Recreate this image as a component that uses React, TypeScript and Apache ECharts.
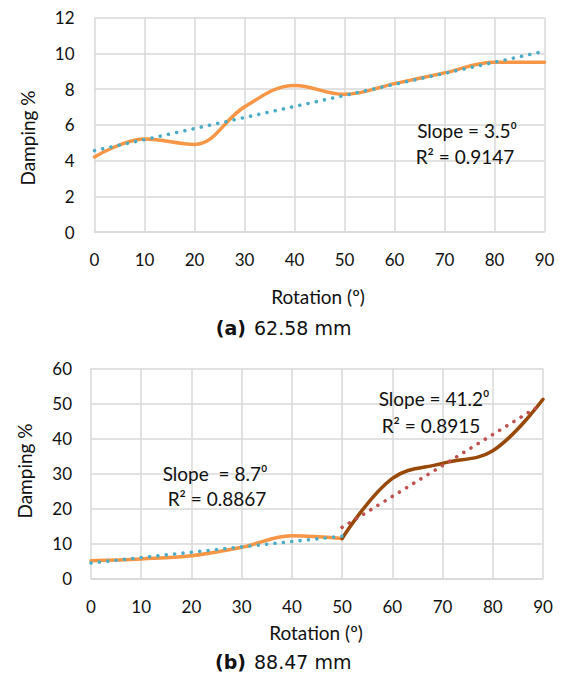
import React, { useEffect, useRef } from "react";
import * as echarts from "echarts";

// ---- data ----
const rotationA = [0, 10, 20, 30, 40, 50, 60, 70, 80, 90];
const dampingA = [4.2, 5.2, 4.9, 7.0, 8.2, 7.7, 8.3, 8.9, 9.5, 9.5];
const trendAX = [0, 89];
const trendAY = [4.55, 10.05];

const rotationB1 = [0, 10, 20, 30, 40, 50];
const dampingB1 = [5.1, 5.6, 6.5, 8.9, 12.2, 11.4];
const rotationB2 = [50, 60, 70, 80, 90];
const dampingB2 = [11.4, 28.6, 32.9, 36.5, 51.2];
const trendB1X = [0, 50];
const trendB1Y = [4.45, 12.1];
const trendB2X = [50, 89];
const trendB2Y = [14.6, 49.1];

const yMaxA = 12;
const yStepA = 2;
const yMaxB = 60;
const yStepB = 10;
const xMax = 90;
const xStep = 10;

const labelsA = ["Slope = 3.5\u2070", "R\u00B2 = 0.9147"];
const labelsB1 = ["Slope  = 8.7\u2070", "R\u00B2 = 0.8867"];
const labelsB2 = ["Slope = 41.2\u2070", "R\u00B2 = 0.8915"];
const axisTitleX = "Rotation (\u00BA)";
const axisTitleY = "Damping %";
const captionA = ["(a)", "62.58 mm"];
const captionB = ["(b)", "88.47 mm"];

const zip = (xs: number[], ys: number[]) => xs.map((x, i) => [x, ys[i]]);

const ORANGE = "#F79646";
const BROWN = "#984807";
const BLUE = "#4BACC6";
const RED = "#C0504D";
const GRID = "#D9D9D9";
const TXT = "#111111";
const FONT = "Lato";

function xAxisCfg(gridIndex: number) {
  return {
    type: "value" as const,
    gridIndex,
    min: 0,
    max: xMax,
    interval: xStep,
    axisLine: { show: true, lineStyle: { color: GRID, width: 1.5 } },
    axisTick: { show: false },
    axisLabel: { color: TXT, fontSize: 17, fontFamily: FONT, margin: 19 },
    splitLine: { show: true, lineStyle: { color: GRID, width: 1.5 } },
  };
}

function yAxisCfg(gridIndex: number, max: number, step: number, margin: number) {
  return {
    type: "value" as const,
    gridIndex,
    min: 0,
    max,
    interval: step,
    axisLine: { show: false },
    axisTick: { show: false },
    axisLabel: { color: TXT, fontSize: 17, fontFamily: FONT, margin },
    splitLine: { show: true, lineStyle: { color: GRID, width: 1.5 } },
  };
}

function lineSeries(x: number, y: number, data: number[][], color: string) {
  return {
    type: "line" as const,
    xAxisIndex: x,
    yAxisIndex: y,
    data,
    smooth: 0.38,
    showSymbol: false,
    symbol: "none",
    lineStyle: { color, width: 3.5, cap: "round" as const, join: "round" as const },
    z: 2,
  };
}

function dotSeries(x: number, y: number, data: number[][], color: string) {
  return {
    type: "line" as const,
    xAxisIndex: x,
    yAxisIndex: y,
    data,
    showSymbol: false,
    symbol: "none",
    lineStyle: { color, width: 3.6, type: [0.01, 8.4], cap: "round" as const },
    z: 3,
  };
}

function txt(text: string, x: number, y: number, size: number, extra: any = {}) {
  return {
    type: "text",
    x,
    y,
    rotation: extra.rotation || 0,
    style: {
      text,
      fontSize: size,
      fontFamily: extra.fontFamily || FONT,
      fontWeight: extra.fontWeight || "normal",
      fill: TXT,
      textAlign: extra.align || "center",
      align: extra.align || "center",
      textVerticalAlign: "middle",
      verticalAlign: "middle",
    },
    z: 10,
  };
}

export default function App() {
  const ref = useRef<HTMLDivElement>(null);
  useEffect(() => {
    if (!ref.current) return;
    const chart = echarts.init(ref.current, null, { renderer: "svg" });
    chart.setOption({
      animation: false,
      backgroundColor: "#ffffff",
      grid: [
        { left: 94.5, right: 18.5, top: 17.5, height: 214.5 },
        { left: 91, right: 20, top: 368.5, height: 210 },
      ],
      xAxis: [xAxisCfg(0), xAxisCfg(1)],
      yAxis: [yAxisCfg(0, yMaxA, yStepA, 20), yAxisCfg(1, yMaxB, yStepB, 19)],
      series: [
        lineSeries(0, 0, zip(rotationA, dampingA), ORANGE),
        dotSeries(0, 0, zip(trendAX, trendAY), BLUE),
        lineSeries(1, 1, zip(rotationB1, dampingB1), ORANGE),
        lineSeries(1, 1, zip(rotationB2, dampingB2), BROWN),
        dotSeries(1, 1, zip(trendB1X, trendB1Y), BLUE),
        dotSeries(1, 1, zip(trendB2X, trendB2Y), RED),
      ],
      graphic: [
        txt(labelsA[0], 467, 130, 19),
        txt(labelsA[1], 465, 156, 19),
        txt(labelsB1[0], 215, 473, 19),
        txt(labelsB1[1], 217, 498, 19),
        txt(labelsB2[0], 434, 398, 19),
        txt(labelsB2[1], 431, 425, 19),
        txt(axisTitleX, 318, 296, 19),
        txt(axisTitleX, 316, 632, 19),
        txt(axisTitleY, 27, 138, 19, { rotation: Math.PI / 2 }),
        txt(axisTitleY, 24, 471, 19, { rotation: Math.PI / 2 }),
        txt(captionA[0], 246, 328, 19, { align: "right", fontWeight: "bold", fontFamily: "DejaVu Sans" }),
        txt(captionA[1], 254, 328, 19, { align: "left", fontFamily: "DejaVu Sans" }),
        txt(captionB[0], 246, 662, 19, { align: "right", fontWeight: "bold", fontFamily: "DejaVu Sans" }),
        txt(captionB[1], 254, 662, 19, { align: "left", fontFamily: "DejaVu Sans" }),
      ],
    });
    return () => chart.dispose();
  }, []);
  return (
    <div
      ref={ref}
      style={{ position: "fixed", left: 0, top: 0, width: 563, height: 675, background: "#fff" }}
    />
  );
}
